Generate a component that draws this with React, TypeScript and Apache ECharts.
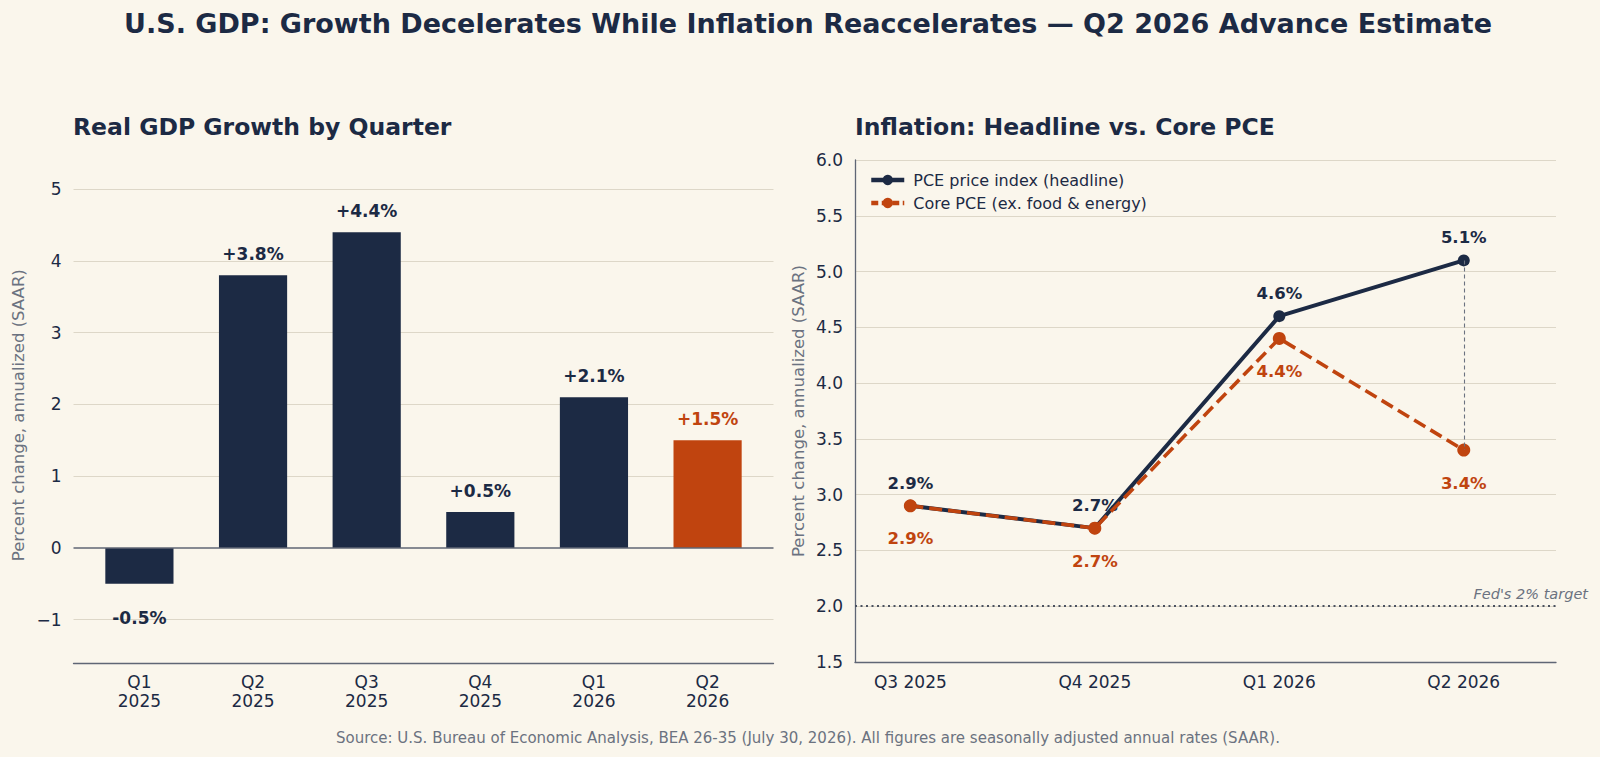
import React, { useEffect, useRef } from "react";
import * as echarts from "echarts";

const gdpQuarters = ["Q1\n2025", "Q2\n2025", "Q3\n2025", "Q4\n2025", "Q1\n2026", "Q2\n2026"];
const gdpGrowth = [-0.5, 3.8, 4.4, 0.5, 2.1, 1.5];
const gdpTicks = [-1, 0, 1, 2, 3, 4, 5];

const pceQuarters = ["Q3 2025", "Q4 2025", "Q1 2026", "Q2 2026"];
const pceHeadline = [2.9, 2.7, 4.6, 5.1];
const pceCore = [2.9, 2.7, 4.4, 3.4];
const fedTarget = 2.0;

const NAVY = "#1c2a44";
const ORANGE = "#c0440f";
const BG = "#faf6ec";
const GRID = "#ddd7c8";
const AXIS = "#5f6675";
const GREY = "#6b7280";
const FONT = "DejaVu Sans";

export default function App() {
  const ref = useRef<HTMLDivElement>(null);

  useEffect(() => {
    document.body.style.margin = "0";
    if (!ref.current) return;
    const chart = echarts.init(ref.current, null, { renderer: "svg" });

    const leftGridW = 700;
    const barWidth = (leftGridW / 6.16) * 0.6;

    const option: any = {
      animation: false,
      backgroundColor: BG,
      textStyle: { fontFamily: FONT },
      title: [
        {
          text: "U.S. GDP: Growth Decelerates While Inflation Reaccelerates \u2014 Q2 2026 Advance Estimate",
          left: 124,
          top: 10,
          padding: 0,
          textStyle: { fontFamily: FONT, fontSize: 27, fontWeight: "bold", color: NAVY },
        },
        {
          text: "Real GDP Growth by Quarter",
          left: 73,
          top: 115,
          padding: 0,
          textStyle: { fontFamily: FONT, fontSize: 23.5, fontWeight: "bold", color: NAVY },
        },
        {
          text: "Inflation: Headline vs. Core PCE",
          left: 855,
          top: 115,
          padding: 0,
          textStyle: { fontFamily: FONT, fontSize: 23.5, fontWeight: "bold", color: NAVY },
        },
        {
          text: "Source: U.S. Bureau of Economic Analysis, BEA 26-35 (July 30, 2026). All figures are seasonally adjusted annual rates (SAAR).",
          left: 336,
          top: 730,
          padding: 0,
          textStyle: { fontFamily: FONT, fontSize: 15, fontWeight: "normal", color: GREY },
        },
      ],
      legend: {
        data: [
          { name: "PCE price index (headline)", lineStyle: { width: 4.5, type: "solid" } },
          { name: "Core PCE (ex. food & energy)", lineStyle: { width: 4.5, type: [7, 3.5] } },
        ],
        orient: "vertical",
        left: 864,
        top: 167,
        itemWidth: 33,
        itemHeight: 13,
        itemGap: 7,
        textStyle: { fontFamily: FONT, fontSize: 16, color: NAVY, padding: [0, 0, 0, 4] },
      },
      grid: [
        { left: 73.5, width: leftGridW, top: 167.6, bottom: 94.2 },
        { left: 855, right: 44, top: 160, bottom: 95 },
      ],
      xAxis: [
        {
          type: "value",
          gridIndex: 0,
          min: -0.58,
          max: 5.58,
          splitLine: { show: false },
          axisTick: { show: false },
          axisLine: { show: true, onZero: false, lineStyle: { color: AXIS, width: 1.3 } },
          axisLabel: {
            customValues: gdpQuarters.map((_, i) => i),
            formatter: (v: number) => gdpQuarters[Math.round(v)] ?? "",
            color: NAVY,
            fontSize: 17,
            lineHeight: 19,
            margin: 10,
            fontFamily: FONT,
          },
        },
        {
          type: "value",
          gridIndex: 1,
          min: -0.3,
          max: 3.5,
          splitLine: { show: false },
          axisTick: { show: false },
          axisLine: { show: true, onZero: false, lineStyle: { color: AXIS, width: 1.3 } },
          axisLabel: {
            customValues: pceQuarters.map((_, i) => i),
            formatter: (v: number) => pceQuarters[Math.round(v)] ?? "",
            color: NAVY,
            fontSize: 17,
            margin: 11,
            fontFamily: FONT,
          },
        },
      ],
      yAxis: [
        {
          type: "value",
          gridIndex: 0,
          min: -1.6,
          max: 5.3,
          axisLine: { show: false },
          axisTick: { show: false },
          splitLine: { show: false },
          axisLabel: {
            customValues: gdpTicks,
            formatter: (v: number) => (v < 0 ? "\u2212" + Math.abs(v) : String(v)),
            color: NAVY,
            fontSize: 17,
            margin: 12,
            fontFamily: FONT,
          },
          name: "Percent change, annualized (SAAR)",
          nameLocation: "middle",
          nameGap: 47,
          nameTextStyle: { color: GREY, fontSize: 16.5, fontFamily: FONT },
        },
        {
          type: "value",
          gridIndex: 1,
          min: 1.5,
          max: 6.0,
          interval: 0.5,
          axisLine: { show: true, onZero: false, lineStyle: { color: AXIS, width: 1.3 } },
          axisTick: { show: false },
          splitLine: { show: true, lineStyle: { color: GRID, width: 1.2 } },
          axisLabel: {
            formatter: (v: number) => v.toFixed(1),
            color: NAVY,
            fontSize: 17,
            margin: 12,
            fontFamily: FONT,
          },
          name: "Percent change, annualized (SAAR)",
          nameLocation: "middle",
          nameGap: 48,
          nameTextStyle: { color: GREY, fontSize: 16.5, fontFamily: FONT },
        },
      ],
      series: [
        {
          type: "line",
          name: "gridlines",
          xAxisIndex: 0,
          yAxisIndex: 0,
          data: [],
          z: 1,
          silent: true,
          markLine: {
            silent: true,
            z: 1,
            symbol: "none",
            label: { show: false },
            lineStyle: { color: GRID, width: 1.2, type: "solid" },
            data: gdpTicks.filter((t) => t !== 0).map((t) => ({ yAxis: t })),
          },
        },
        {
          type: "bar",
          name: "Real GDP",
          xAxisIndex: 0,
          yAxisIndex: 0,
          barWidth,
          z: 3,
          data: gdpGrowth.map((v, i) => {
            const color = i === gdpGrowth.length - 1 ? ORANGE : NAVY;
            return {
              value: [i, v],
              itemStyle: { color },
              label: {
                show: true,
                position: v < 0 ? "bottom" : "top",
                distance: v < 0 ? 26 : 13,
                color,
              },
            };
          }),
          label: {
            show: true,
            fontFamily: FONT,
            fontSize: 17,
            fontWeight: "bold",
            formatter: (p: any) => {
              const v = p.value[1];
              return (v >= 0 ? "+" : "") + v.toFixed(1) + "%";
            },
          },
          markLine: {
            silent: true,
            symbol: "none",
            label: { show: false },
            lineStyle: { color: AXIS, width: 1.5, type: "solid" },
            data: [{ yAxis: 0 }],
          },
        },
        {
          type: "line",
          name: "PCE price index (headline)",
          xAxisIndex: 1,
          yAxisIndex: 1,
          data: pceHeadline.map((v, i) => [i, v]),
          symbol: "circle",
          symbolSize: 12,
          z: 3,
          lineStyle: { color: NAVY, width: 4 },
          itemStyle: { color: NAVY },
          label: {
            show: true,
            position: "top",
            distance: 8,
            fontFamily: FONT,
            fontSize: 16.5,
            fontWeight: "bold",
            color: NAVY,
            formatter: (p: any) => p.value[1].toFixed(1) + "%",
          },
          markLine: {
            silent: true,
            symbol: "none",
            label: { show: false },
            data: [
              { yAxis: fedTarget, lineStyle: { color: "#4b5260", width: 1.8, type: [2, 3.5] } },
              [
                { coord: [3, pceHeadline[3]], lineStyle: { color: GREY, width: 1.1, type: [4, 3] } },
                { coord: [3, pceCore[3]] },
              ],
            ],
          },
        },
        {
          type: "line",
          name: "Core PCE (ex. food & energy)",
          xAxisIndex: 1,
          yAxisIndex: 1,
          data: pceCore.map((v, i) => [i, v]),
          symbol: "circle",
          symbolSize: 13,
          z: 4,
          lineStyle: { color: ORANGE, width: 3.6, type: [13, 6] },
          itemStyle: { color: ORANGE },
          label: {
            show: true,
            position: "bottom",
            distance: 18,
            fontFamily: FONT,
            fontSize: 16.5,
            fontWeight: "bold",
            color: ORANGE,
            formatter: (p: any) => p.value[1].toFixed(1) + "%",
          },
        },
      ],
    };

    chart.setOption(option);

    const p = chart.convertToPixel({ xAxisIndex: 1, yAxisIndex: 1 } as any, [3.5, fedTarget]) as number[];
    if (p) {
      chart.setOption({
        graphic: [
          {
            type: "text",
            x: p[0] + 32,
            y: p[1] - 5,
            silent: true,
            style: {
              text: "Fed's 2% target",
              align: "right",
              verticalAlign: "bottom",
              fill: GREY,
              fontFamily: FONT,
              fontSize: 14.5,
              fontStyle: "italic",
            },
          },
        ],
      });
    }

    return () => chart.dispose();
  }, []);

  return <div ref={ref} style={{ width: 1600, height: 757 }} />;
}
